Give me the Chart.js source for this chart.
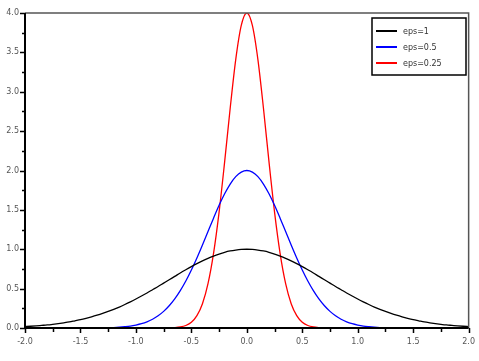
<!DOCTYPE html>
<html>
<head>
<meta charset="utf-8">
<script src="https://cdn.jsdelivr.net/npm/chart.js@4/dist/chart.umd.min.js"></script>
<style>
  html, body { margin: 0; padding: 0; background: #fff; }
  #wrap { width: 479px; height: 361px; }
</style>
</head>
<body>
<div id="wrap"><canvas id="chart" width="479" height="361"></canvas></div>
<script>
// x positions, -2.0 .. 2.0 every 0.05
const xs = [
  -2.0, -1.95, -1.9, -1.85, -1.8, -1.75, -1.7, -1.65, -1.6, -1.55,
  -1.5, -1.45, -1.4, -1.35, -1.3, -1.25, -1.2, -1.15, -1.1, -1.05,
  -1.0, -0.95, -0.9, -0.85, -0.8, -0.75, -0.7, -0.65, -0.6, -0.55,
  -0.5, -0.45, -0.4, -0.35, -0.3, -0.25, -0.2, -0.15, -0.1, -0.05,
  0.0,
  0.05, 0.1, 0.15, 0.2, 0.25, 0.3, 0.35, 0.4, 0.45, 0.5,
  0.55, 0.6, 0.65, 0.7, 0.75, 0.8, 0.85, 0.9, 0.95, 1.0,
  1.05, 1.1, 1.15, 1.2, 1.25, 1.3, 1.35, 1.4, 1.45, 1.5,
  1.55, 1.6, 1.65, 1.7, 1.75, 1.8, 1.85, 1.9, 1.95, 2.0
];

const eps1 = [
  0.018, 0.022, 0.027, 0.033, 0.039, 0.047, 0.056, 0.066, 0.077, 0.091,
  0.105, 0.122, 0.141, 0.162, 0.185, 0.210, 0.237, 0.266, 0.298, 0.332,
  0.368, 0.406, 0.445, 0.486, 0.527, 0.570, 0.613, 0.655, 0.698, 0.739,
  0.779, 0.817, 0.852, 0.885, 0.914, 0.939, 0.961, 0.978, 0.990, 0.998,
  1.000,
  0.998, 0.990, 0.978, 0.961, 0.939, 0.914, 0.885, 0.852, 0.817, 0.779,
  0.739, 0.698, 0.655, 0.613, 0.570, 0.527, 0.486, 0.445, 0.406, 0.368,
  0.332, 0.298, 0.266, 0.237, 0.210, 0.185, 0.162, 0.141, 0.122, 0.105,
  0.091, 0.077, 0.066, 0.056, 0.047, 0.039, 0.033, 0.027, 0.022, 0.018
];

const eps05 = [
  0, 0, 0, 0, 0, 0, 0, 0, 0, 0,
  0, 0, 0.001, 0.001, 0.002, 0.004, 0.006, 0.010, 0.016, 0.024,
  0.037, 0.054, 0.078, 0.111, 0.155, 0.211, 0.282, 0.369, 0.474, 0.596,
  0.736, 0.890, 1.055, 1.225, 1.395, 1.558, 1.704, 1.828, 1.922, 1.980,
  2.000,
  1.980, 1.922, 1.828, 1.704, 1.558, 1.395, 1.225, 1.055, 0.890, 0.736,
  0.596, 0.474, 0.369, 0.282, 0.211, 0.155, 0.111, 0.078, 0.054, 0.037,
  0.024, 0.016, 0.010, 0.006, 0.004, 0.002, 0.001, 0.001, 0, 0,
  0, 0, 0, 0, 0, 0, 0, 0, 0, 0
];

const eps025 = [
  0, 0, 0, 0, 0, 0, 0, 0, 0, 0,
  0, 0, 0, 0, 0, 0, 0, 0, 0, 0,
  0, 0, 0, 0, 0, 0.001, 0.002, 0.005, 0.013, 0.032,
  0.073, 0.157, 0.309, 0.563, 0.948, 1.472, 2.109, 2.791, 3.409, 3.843,
  4.000,
  3.843, 3.409, 2.791, 2.109, 1.472, 0.948, 0.563, 0.309, 0.157, 0.073,
  0.032, 0.013, 0.005, 0.002, 0.001, 0, 0, 0, 0, 0,
  0, 0, 0, 0, 0, 0, 0, 0, 0, 0,
  0, 0, 0, 0, 0, 0, 0, 0, 0, 0
];

const seriesNames = ["eps=1", "eps=0.5", "eps=0.25"];
const seriesColors = ["#000000", "#0000ff", "#ff0000"];

const labelFont = { family: "DejaVu Sans", size: 8 };

function pts(ys) {
  return xs.map((x, i) => ({ x: x, y: ys[i] }));
}

function halfLabel(v) {
  const r = Math.round(v * 100) / 100;
  return Math.abs(r * 2 - Math.round(r * 2)) < 1e-6 ? r.toFixed(1) : "";
}

// frame, tick marks and the boxed legend inside the plot
const framePlugin = {
  id: "frame",
  afterDraw(chart) {
    const ctx = chart.ctx;
    const a = chart.chartArea;
    const sx = chart.scales.x;
    const sy = chart.scales.y;
    ctx.save();

    // top and right edges
    ctx.strokeStyle = "#555555";
    ctx.lineWidth = 1.5;
    ctx.beginPath();
    ctx.moveTo(a.left, a.top);
    ctx.lineTo(a.right, a.top);
    ctx.lineTo(a.right, a.bottom);
    ctx.stroke();

    // left and bottom axes
    ctx.strokeStyle = "#000000";
    ctx.lineWidth = 2;
    ctx.beginPath();
    ctx.moveTo(a.left, a.top);
    ctx.lineTo(a.left, a.bottom);
    ctx.lineTo(a.right, a.bottom);
    ctx.stroke();

    ctx.lineWidth = 1.5;
    ctx.beginPath();
    sx.ticks.forEach(t => {
      const px = Math.round(sx.getPixelForValue(t.value)) + 0.5;
      const len = t.label ? 5 : 4;
      ctx.moveTo(px, a.bottom);
      ctx.lineTo(px, a.bottom + len);
    });
    sy.ticks.forEach(t => {
      const py = Math.round(sy.getPixelForValue(t.value)) + 0.5;
      const len = t.label ? 5 : 3;
      ctx.moveTo(a.left, py);
      ctx.lineTo(a.left - len, py);
    });
    ctx.stroke();

    // legend box
    const bx = 372, by = 18, bw = 94, bh = 57;
    ctx.fillStyle = "#ffffff";
    ctx.fillRect(bx, by, bw, bh);
    ctx.strokeStyle = "#000000";
    ctx.lineWidth = 1.5;
    ctx.strokeRect(bx, by, bw, bh);
    ctx.font = "8px 'DejaVu Sans'";
    ctx.textBaseline = "middle";
    chart.data.datasets.forEach((ds, i) => {
      const y = by + 13 + i * 16;
      ctx.strokeStyle = ds.borderColor;
      ctx.lineWidth = 2;
      ctx.beginPath();
      ctx.moveTo(bx + 4, y);
      ctx.lineTo(bx + 25, y);
      ctx.stroke();
      ctx.fillStyle = "#333333";
      ctx.fillText(ds.label, bx + 31, y + 1);
    });

    ctx.restore();
  }
};

new Chart(document.getElementById("chart"), {
  type: "line",
  data: {
    datasets: [
      { label: seriesNames[0], data: pts(eps1), borderColor: seriesColors[0] },
      { label: seriesNames[1], data: pts(eps05), borderColor: seriesColors[1] },
      { label: seriesNames[2], data: pts(eps025), borderColor: seriesColors[2] }
    ]
  },
  options: {
    responsive: false,
    animation: false,
    devicePixelRatio: 1,
    layout: { padding: { top: 13, right: 8, left: 0, bottom: 0 } },
    elements: {
      point: { radius: 0 },
      line: { borderWidth: 1.3, cubicInterpolationMode: "monotone", fill: false }
    },
    plugins: {
      legend: { display: false },
      tooltip: { enabled: false }
    },
    scales: {
      x: {
        type: "linear",
        min: -2,
        max: 2,
        afterFit: s => { s.height = 33; },
        grid: { display: false, drawTicks: true, tickLength: 5 },
        border: { display: false },
        ticks: {
          stepSize: 0.25,
          autoSkip: false,
          maxRotation: 0,
          padding: 4,
          color: "#555555",
          font: labelFont,
          callback: v => halfLabel(v)
        }
      },
      y: {
        min: 0,
        max: 4,
        afterFit: s => { s.width = 25; },
        grid: { display: false, drawTicks: true, tickLength: 5 },
        border: { display: false },
        ticks: {
          stepSize: 0.25,
          autoSkip: false,
          padding: 1,
          color: "#555555",
          font: labelFont,
          callback: v => halfLabel(v)
        }
      }
    }
  },
  plugins: [framePlugin]
});
</script>
</body>
</html>
